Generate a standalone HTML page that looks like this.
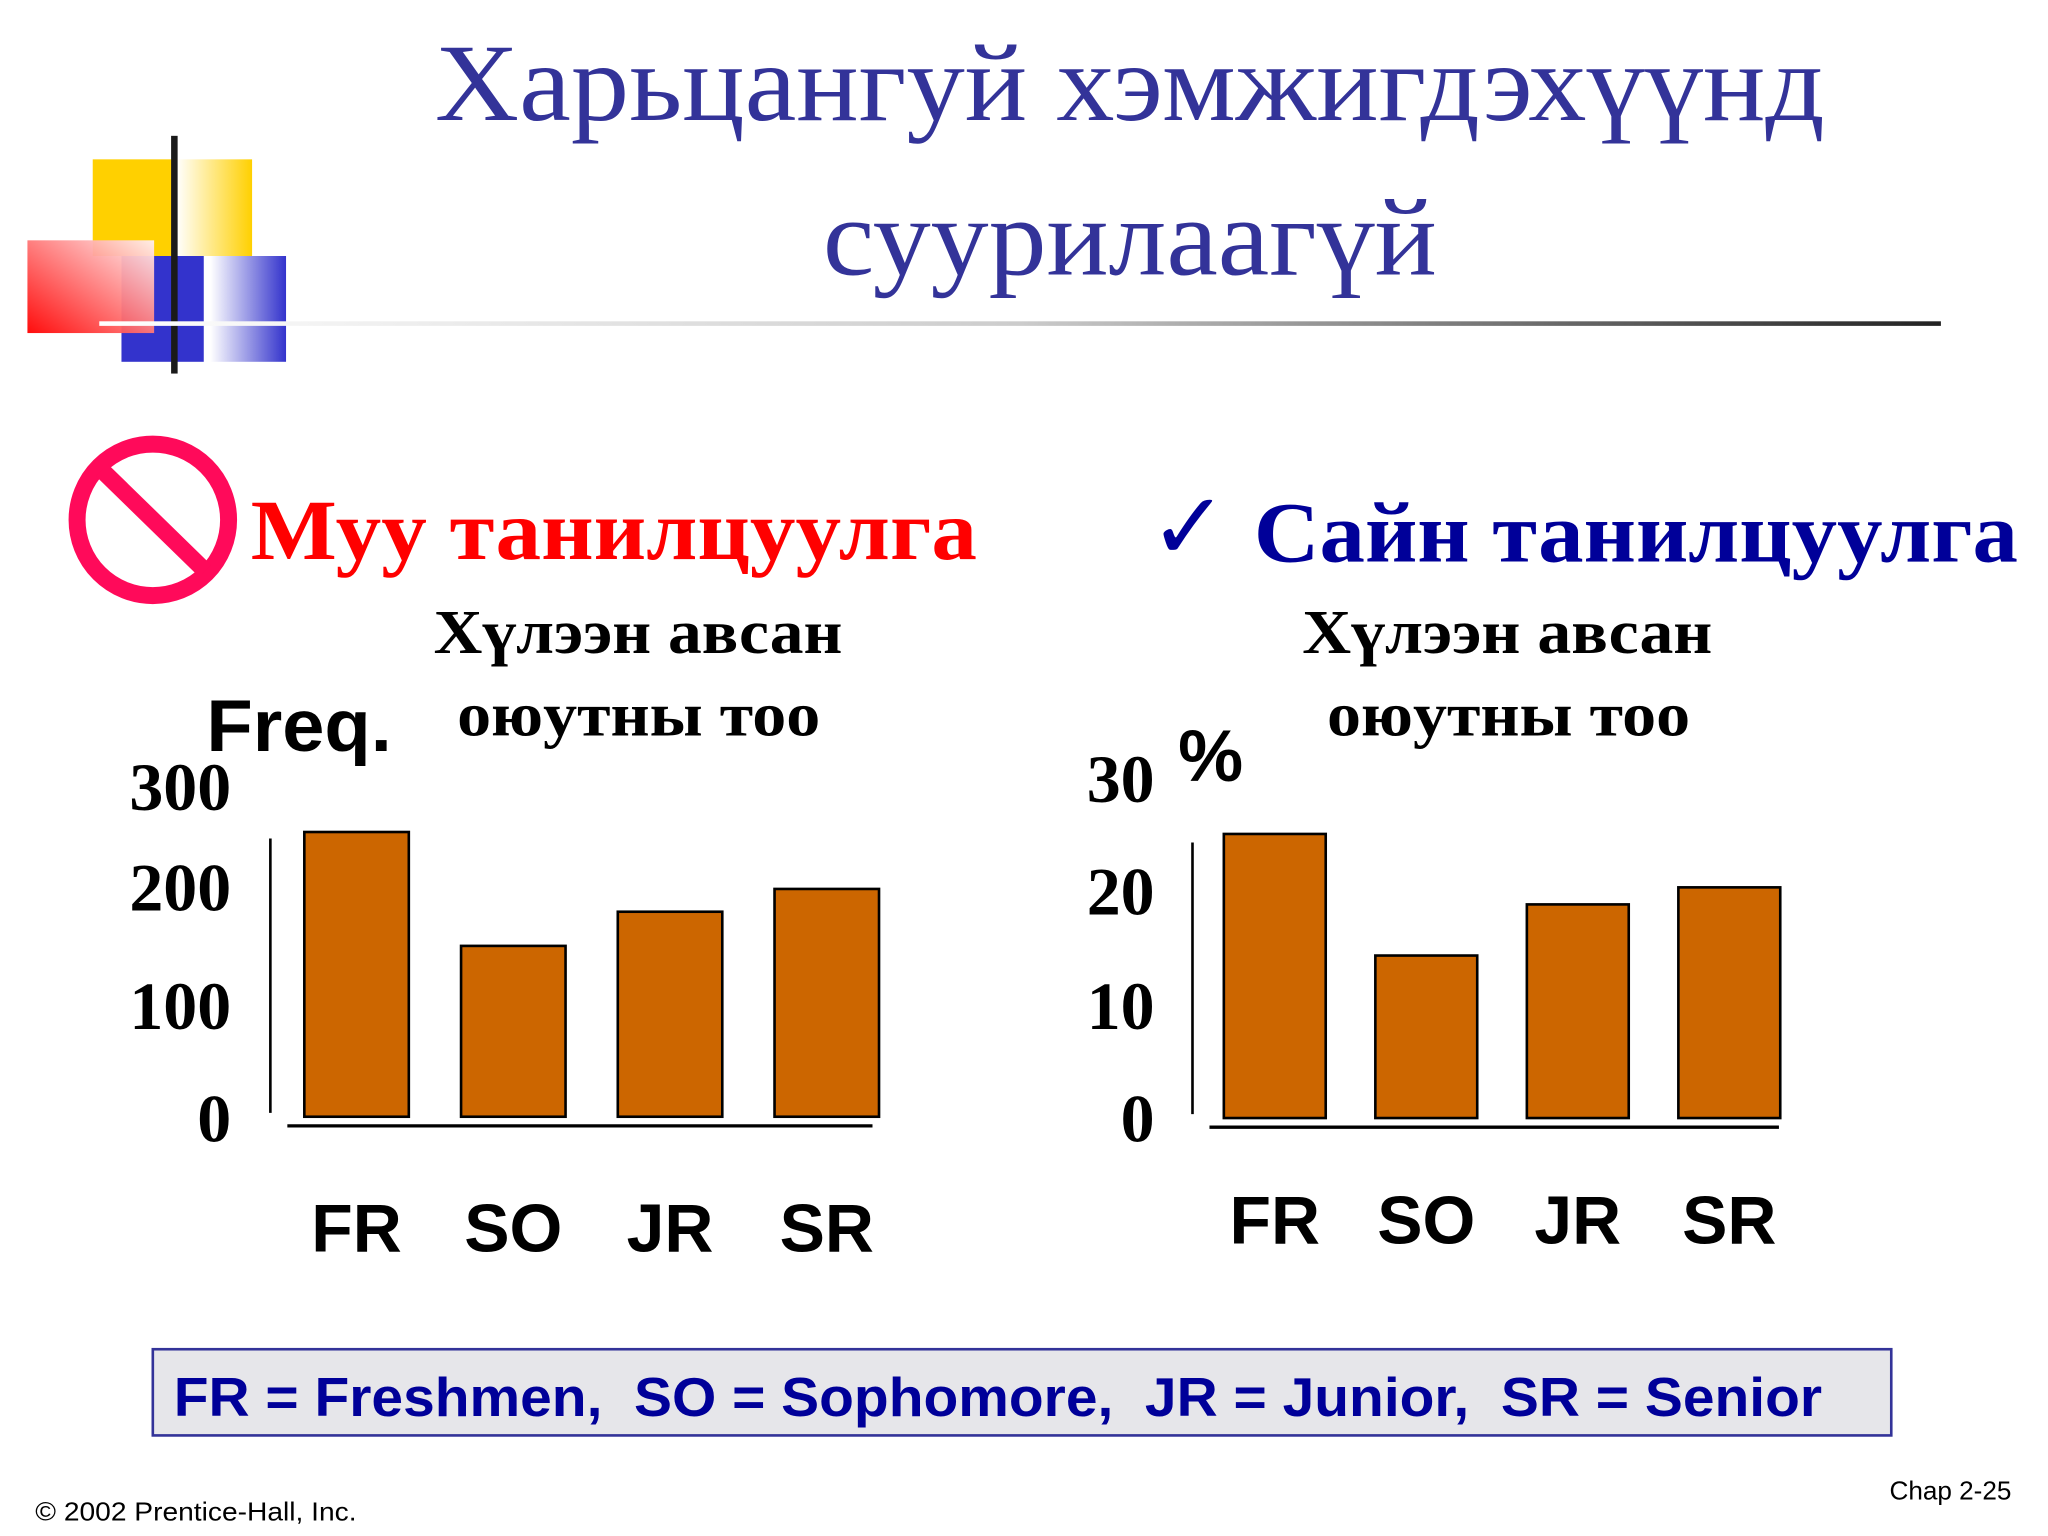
<!DOCTYPE html>
<html><head><meta charset="utf-8"><style>
html,body{margin:0;padding:0;background:#fff}
svg{display:block}
.serif{font-family:"Liberation Serif",serif}
.sans{font-family:"Liberation Sans",sans-serif}
</style></head><body>
<svg id="slide" width="2048" height="1536" viewBox="0 0 1568 1176" xmlns="http://www.w3.org/2000/svg">
<defs>
<linearGradient id="yg" x1="0" x2="1"><stop offset="0" stop-color="#fff"/><stop offset="1" stop-color="#ffd000"/></linearGradient>
<linearGradient id="bg" x1="0" x2="1"><stop offset="0" stop-color="#fff"/><stop offset="1" stop-color="#3333cc"/></linearGradient>
<linearGradient id="rg" x1="0" y1="1" x2="1" y2="0"><stop offset="0" stop-color="#ff0000"/><stop offset="1" stop-color="#fff0f0"/></linearGradient>
<linearGradient id="lg" x1="0" x2="1"><stop offset="0" stop-color="#fff"/><stop offset="0.5" stop-color="#ccc"/><stop offset="1" stop-color="#222"/></linearGradient>
</defs>
<g>
<rect x="71" y="122" width="62" height="74" fill="#ffd000"/>
<rect x="135" y="122" width="58" height="74" fill="url(#yg)"/>
<rect x="93" y="196" width="63" height="81" fill="#3333cc"/>
<rect x="161" y="196" width="58" height="81" fill="url(#bg)"/>
<rect x="21" y="184" width="97" height="71" fill="url(#rg)" opacity="0.95"/>
<rect x="131" y="104" width="5" height="182" fill="#1a1a1a"/>
</g>
<rect x="76" y="246" width="1410" height="3.5" fill="url(#lg)"/>
<text class="serif" x="333" y="92" font-size="84" fill="#333399" textLength="1064" lengthAdjust="spacingAndGlyphs">Харьцангуй хэмжигдэхүүнд</text>
<text class="serif" x="630" y="210" font-size="84" fill="#333399" textLength="470" lengthAdjust="spacingAndGlyphs">суурилаагүй</text>

<g>
<circle cx="117" cy="398" r="58" fill="none" stroke="#ff0a5a" stroke-width="13"/>
<line x1="78" y1="360" x2="157" y2="437" stroke="#ff0a5a" stroke-width="13"/>
</g>
<text class="serif" x="192" y="428" font-size="66" font-weight="bold" fill="#ff0000" textLength="556" lengthAdjust="spacingAndGlyphs">Муу танилцуулга</text>
<text x="880" y="428" font-size="72" font-weight="bold" fill="#000099" font-family="DejaVu Sans, sans-serif">✓</text>
<text class="serif" x="960" y="430" font-size="66" font-weight="bold" fill="#000099" textLength="585" lengthAdjust="spacingAndGlyphs">Сайн танилцуулга</text>

<text class="serif" x="332" y="500" font-size="48" font-weight="bold" textLength="313" lengthAdjust="spacingAndGlyphs">Хүлээн авсан</text>
<text class="serif" x="350" y="563" font-size="48" font-weight="bold" textLength="278" lengthAdjust="spacingAndGlyphs">оюутны тоо</text>
<text class="serif" x="997" y="500" font-size="48" font-weight="bold" textLength="314" lengthAdjust="spacingAndGlyphs">Хүлээн авсан</text>
<text class="serif" x="1016" y="563" font-size="48" font-weight="bold" textLength="278" lengthAdjust="spacingAndGlyphs">оюутны тоо</text>

<text class="sans" x="158" y="575" font-size="56" font-weight="bold" textLength="142" lengthAdjust="spacingAndGlyphs">Freq.</text>
<text class="sans" x="902" y="598" font-size="56" font-weight="bold">%</text>

<g id="left-chart"></g>
<g id="right-chart"></g>

<g>
<rect x="117" y="1033" width="1331" height="66" fill="#e6e6ea" stroke="#333399" stroke-width="2"/>
<text class="sans" x="133" y="1084" font-size="42" font-weight="bold" fill="#000099" xml:space="preserve" textLength="1262" lengthAdjust="spacingAndGlyphs">FR = Freshmen,  SO = Sophomore,  JR = Junior,  SR = Senior</text>
</g>
<text class="sans" x="27" y="1164" font-size="20" textLength="246" lengthAdjust="spacingAndGlyphs">© 2002 Prentice-Hall, Inc.</text>
<text class="sans" x="1540" y="1148" font-size="20" text-anchor="end">Chap 2-25</text>
</svg>
<script>
const categories = ["FR","SO","JR","SR"];
const freqValues = [250,150,180,200];
const pctValues = [25,14.3,18.8,20.3];
const freqTickLabels = ["300","200","100","0"];
const pctTickLabels = ["30","20","10","0"];
const NS="http://www.w3.org/2000/svg";
function mk(tag,attrs,parent){const e=document.createElementNS(NS,tag);for(const k in attrs)e.setAttribute(k,attrs[k]);parent.appendChild(e);return e;}
function draw(g,vals,ticks,cfg){
  const y=v=>cfg.base - v*cfg.k;
  const ax=mk('line',{x1:cfg.axisX,x2:cfg.axisX,y1:cfg.axisTop,y2:cfg.base-3,stroke:'#000','stroke-width':2},g);
  
  
  const bl=mk('line',{x1:cfg.blX1,x2:cfg.blX2,y1:cfg.base+7,y2:cfg.base+7,stroke:'#000','stroke-width':2.5},g);
  
  
  vals.forEach((v,i)=>{
    const x=cfg.x0+i*cfg.step;
    const r=mk('rect',{x:x,y:y(v),width:cfg.w,height:cfg.base-y(v),fill:'#cc6600',stroke:'#000','stroke-width':2},g);
    
    
    const t=mk('text',{x:x+cfg.w/2,y:cfg.catY,'font-size':52,'font-weight':'bold','text-anchor':'middle','font-family':'Liberation Sans, sans-serif'},g);
    t.textContent=categories[i];
    
    
  });
  ticks.forEach((lab,i)=>{
    const t=mk('text',{x:cfg.tickX,y:cfg.tickY[i],'font-size':52,'font-weight':'bold','text-anchor':'end','font-family':'Liberation Serif, serif'},g);
    t.textContent=lab;
    
    
  });
}
draw(document.getElementById('left-chart'),freqValues,freqTickLabels,{base:855,k:0.872,x0:233,step:120,w:80,axisX:207,axisTop:642,blX1:220,blX2:668,catY:958,tickX:177,tickY:[620,697,788,874]});
draw(document.getElementById('right-chart'),pctValues,pctTickLabels,{base:856,k:8.7,x0:937,step:116,w:78,axisX:913,axisTop:645,blX1:926,blX2:1362,catY:952,tickX:884,tickY:[614,700,788,874]});
</script>
</body></html>
